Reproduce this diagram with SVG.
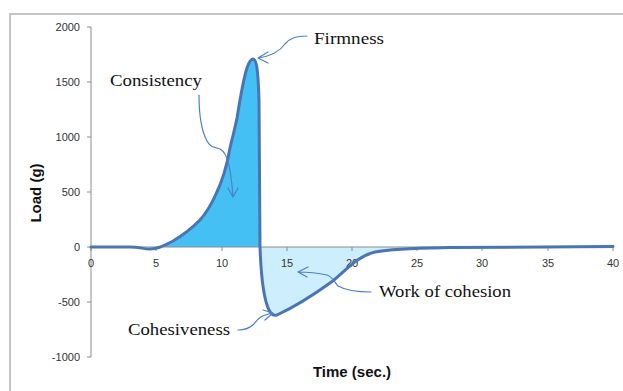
<svg xmlns="http://www.w3.org/2000/svg" width="623" height="391" viewBox="0 0 623 391">
<defs>
<style>
.frame{fill:none;stroke:#c4c4c4;stroke-width:2}
.axis{fill:none;stroke:#8c8c8c;stroke-width:1}
.tick{font-family:"Liberation Sans",Arial,sans-serif;font-size:11px;fill:#333}
.title{font-family:"Liberation Sans",Arial,sans-serif;font-size:15px;font-weight:bold;fill:#111}
.ann{font-family:"Liberation Serif","Times New Roman",serif;font-size:17px;fill:#111}
.curve{fill:none;stroke:#4a74b4;stroke-width:3;stroke-linejoin:round;stroke-linecap:round}
.arrow{fill:none;stroke:#4f7fc6;stroke-width:1.2;stroke-linecap:round;stroke-linejoin:round}
</style>
</defs>
<rect width="623" height="391" fill="#fff"/>
<path class="frame" d="M10,391 V14 H623"/>
<g id="fills">
<path fill="#45c0f5" d="M160,247 C165,246 168,244 173,241 C185,234 193,227 200,220 C208,211 212,203 216,194 C222,182 227,165 230,148 C233,135 235,128 237,118 C240,100 243,80 247,68 C249,62 251,59 253,59 C256,59 258,66 259,100 L260,247 Z"/>
<path fill="#cdeefc" d="M260,247 C261,275 264,300 269,310 C271,314 274,316 277,315 C292,308 312,296 330,283 C345,272 355,257 375,252 C395,248 420,248 450,247.5 L450,247 Z"/>
</g>
<g id="axes">
<path class="axis" d="M91,27 V357 M87,27 H91 M87,82 H91 M87,137 H91 M87,192 H91 M87,247 H91 M87,302 H91 M87,357 H91"/>
<path class="axis" d="M91,247 H613 M91,247 V251 M156,247 V251 M222,247 V251 M287,247 V251 M352,247 V251 M417,247 V251 M482,247 V251 M548,247 V251 M613,247 V251"/>
<g class="tick" text-anchor="end">
<text x="80" y="31">2000</text>
<text x="80" y="86">1500</text>
<text x="80" y="141">1000</text>
<text x="80" y="196">500</text>
<text x="80" y="251">0</text>
<text x="80" y="306">-500</text>
<text x="80" y="361">-1000</text>
</g>
<g class="tick" text-anchor="middle">
<text x="91" y="267">0</text>
<text x="156" y="267">5</text>
<text x="222" y="267">10</text>
<text x="287" y="267">15</text>
<text x="352" y="267">20</text>
<text x="417" y="267">25</text>
<text x="482" y="267">30</text>
<text x="548" y="267">35</text>
<text x="613" y="267">40</text>
</g>
<text class="title" text-anchor="middle" transform="translate(41,193) rotate(-90)" font-size="14">Load (g)</text>
<text class="title" x="352" y="377" text-anchor="middle">Time (sec.)</text>
</g>
<g id="curve">
<path class="curve" d="M91,247 L130,247 C140,247 143,249 150,249 C158,249 163,246 173,241 C185,234 193,227 200,220 C208,211 212,203 216,194 C222,182 227,165 230,148 C233,135 235,128 237,118 C240,100 243,80 247,68 C249,62 251,59 253,59 C256,59 258,66 259,100 L260,247 C261,275 264,300 269,310 C271,314 274,316 277,315 C292,308 312,296 330,283 C345,272 355,257 375,252 C395,248 420,248 450,247.5 L613,246.5"/>
</g>
<g id="firmness">
<text class="ann" x="314" y="44" textLength="70" lengthAdjust="spacingAndGlyphs">Firmness</text>
</g>
<g id="consistency">
<text class="ann" x="110" y="86" textLength="92" lengthAdjust="spacingAndGlyphs">Consistency</text>
</g>
<g id="cohesiveness">
<text class="ann" x="128" y="335" textLength="102" lengthAdjust="spacingAndGlyphs">Cohesiveness</text>
</g>
<g id="work">
<text class="ann" x="379" y="297" textLength="132" lengthAdjust="spacingAndGlyphs">Work of cohesion</text>
</g>
<g id="connectors">
<path class="arrow" d="M307,36 C296,36 290,38 285,44 C280,51 272,56 258,58 M268,52 L258,58 L268,63"/>
<path class="arrow" d="M199,95 C199,110 201,130 207,141 C210,147 214,147 220,149 C228,153 231,170 233,197 M228,188 L233,197 L238,188"/>
<path class="arrow" d="M238,330 C245,330 250,328 254,324 C258,318 262,315 273,313 M263,310 L273,313 L265,320"/>
<path class="arrow" d="M371,292 C355,292 345,290 338,286 C334,282 333,277 327,275 C318,273 308,272 298,272 M308,267 L298,272 L307,277"/>
</g>
</svg>
